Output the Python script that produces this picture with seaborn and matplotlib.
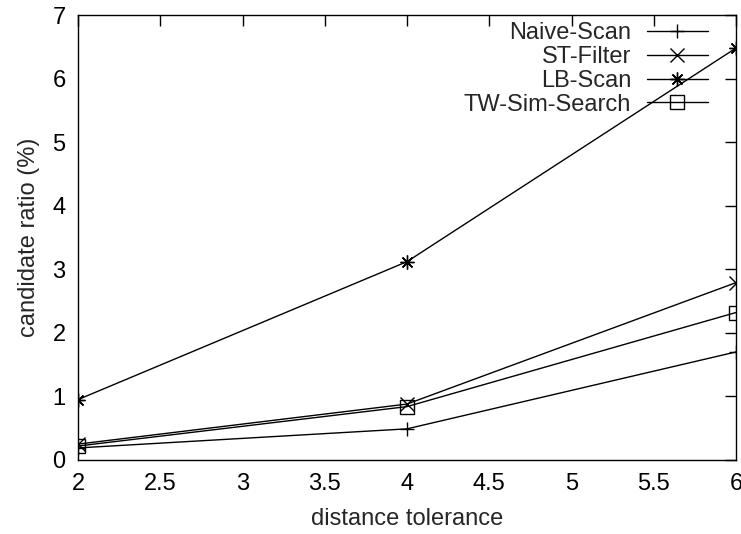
import numpy as np
import pandas as pd
import matplotlib
matplotlib.use('Agg')
import matplotlib.pyplot as plt
import seaborn as sns

# values
tolerance = [2, 4, 6]
naive_scan = [0.19, 0.49, 1.70]
st_filter = [0.25, 0.88, 2.79]
lb_scan = [0.95, 3.12, 6.48]
tw_sim_search = [0.22, 0.84, 2.32]

series = ['Naive-Scan', 'ST-Filter', 'LB-Scan', 'TW-Sim-Search']
markers = ['+', 'x', (8, 2, 0), 's']

df = pd.DataFrame({
    'tolerance': tolerance * 4,
    'ratio': naive_scan + st_filter + lb_scan + tw_sim_search,
    'method': [s for s in series for _ in tolerance],
})

sns.set_style('white')
plt.rcParams['font.family'] = ['Liberation Sans', 'DejaVu Sans']

fig = plt.figure(figsize=(7.41, 5.34), dpi=100)
ax = fig.add_axes([78 / 741, 1 - 460 / 534, (736 - 78) / 741, (460 - 15) / 534])

for name, mk in zip(series, markers):
    d = df[df['method'] == name]
    sns.lineplot(data=d, x='tolerance', y='ratio', ax=ax, color='black',
                 linewidth=1.0, marker=mk, markersize=10, markeredgewidth=1.0,
                 markerfacecolor='none', markeredgecolor='black', label=name)

ax.set_xlim(2, 6)
ax.set_ylim(0, 7)
ax.set_xticks(np.arange(2, 6.01, 0.5))
ax.set_xticklabels(['2', '2.5', '3', '3.5', '4', '4.5', '5', '5.5', '6'])
ax.set_yticks(range(8))
ax.tick_params(direction='in', top=True, right=True, length=8, width=1,
               labelsize=17, colors='black', pad=9)
for sp in ax.spines.values():
    sp.set_color('black')
    sp.set_linewidth(1.0)

ax.set_xlabel('distance tolerance', fontsize=17, labelpad=10)
ax.set_ylabel('candidate ratio (%)', fontsize=17, labelpad=9)

ax.legend(loc='upper right', bbox_to_anchor=(708 / 741, 1 - 22 / 534),
          bbox_transform=fig.transFigure, frameon=False, markerfirst=False,
          fontsize=17, handlelength=2.6, handletextpad=0.65, labelspacing=0.08,
          borderpad=0, borderaxespad=0)

fig.savefig('out.png', dpi=100)
